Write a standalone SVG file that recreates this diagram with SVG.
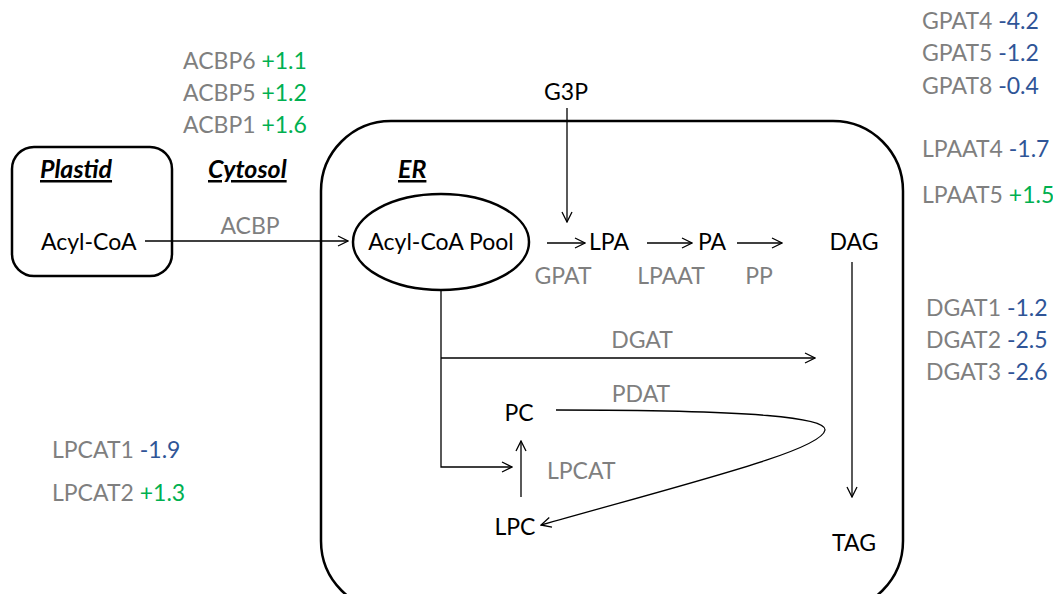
<svg xmlns="http://www.w3.org/2000/svg" width="1053" height="594" viewBox="0 0 1053 594">
<defs>
<marker id="arr" viewBox="0 0 12 12" refX="11" refY="6" markerWidth="12" markerHeight="12" markerUnits="userSpaceOnUse" orient="auto">
<polyline points="1,1 11,6 1,11" fill="none" stroke="#000" stroke-width="1.3"/>
</marker>
<style>
text{font-family:Lato,"Open Sans","Liberation Sans",sans-serif;font-size:23px}
.k{fill:#000}
.g{fill:#7f7f7f}
.b{fill:#2f5597}
.n{fill:#00b050}
.h{font-weight:bold;font-style:italic;text-decoration:underline;font-size:25px}
.box{fill:none;stroke:#000;stroke-width:2.5}
.c{fill:none;stroke:#000;stroke-width:1.3}
.m{text-anchor:middle}
</style>
</defs>
<rect width="1053" height="594" fill="#fff"/>

<g id="plastid">
<rect class="box" x="12" y="147" width="160" height="129" rx="22"/>
<text class="k h" x="40" y="178">Plastid</text>
<text class="k" x="41" y="250">Acyl-CoA</text>
</g>
<g id="cytosol"><text class="k h" x="208" y="178">Cytosol</text></g>
<g id="er">
<rect class="box" x="321" y="121" width="582" height="490" rx="70"/>
<text class="k h" x="398" y="178">ER</text>
</g>
<g id="pool">
<ellipse class="box" cx="441" cy="242" rx="88" ry="48"/>
<text class="k m" x="441" y="250">Acyl-CoA Pool</text>
</g>
<g id="g3p"><text class="k m" x="566" y="100">G3P</text></g>
<g id="lpa"><text class="k m" x="609" y="250">LPA</text></g>
<g id="pa"><text class="k m" x="712" y="250">PA</text></g>
<g id="dag"><text class="k m" x="854" y="250">DAG</text></g>
<g id="tag"><text class="k m" x="854" y="551">TAG</text></g>
<g id="pc"><text class="k m" x="519" y="421">PC</text></g>
<g id="lpc"><text class="k m" x="515" y="535">LPC</text></g>

<g id="connectors">
<line class="c" x1="145" y1="241" x2="348" y2="241" marker-end="url(#arr)"/>
<line class="c" x1="567" y1="108" x2="567" y2="222" marker-end="url(#arr)"/>
<line class="c" x1="547" y1="243" x2="585" y2="243" marker-end="url(#arr)"/>
<line class="c" x1="647" y1="243" x2="692" y2="243" marker-end="url(#arr)"/>
<line class="c" x1="737" y1="243" x2="782" y2="243" marker-end="url(#arr)"/>
<line class="c" x1="852" y1="262" x2="852" y2="497" marker-end="url(#arr)"/>
<polyline class="c" points="441,290 441,467 512,467" marker-end="url(#arr)"/>
<line class="c" x1="441" y1="358" x2="815" y2="358" marker-end="url(#arr)"/>
<line class="c" x1="521" y1="497" x2="521" y2="441" marker-end="url(#arr)"/>
<path class="c" d="M556,410 C760,410 826,418 825,430 C822,450 700,480 541,525" marker-end="url(#arr)"/>
</g>

<g id="labels">
<text class="g m" x="250" y="234">ACBP</text>
<text class="g m" x="563" y="284">GPAT</text>
<text class="g m" x="671" y="284">LPAAT</text>
<text class="g m" x="759" y="284">PP</text>
<text class="g m" x="642" y="348">DGAT</text>
<text class="g m" x="641" y="402">PDAT</text>
<text class="g" x="547" y="479">LPCAT</text>
</g>

<g id="expression">
<text x="183" y="69"><tspan class="g">ACBP6 </tspan><tspan class="n">+1.1</tspan></text>
<text x="183" y="101"><tspan class="g">ACBP5 </tspan><tspan class="n">+1.2</tspan></text>
<text x="183" y="133"><tspan class="g">ACBP1 </tspan><tspan class="n">+1.6</tspan></text>
<text x="922" y="29"><tspan class="g">GPAT4 </tspan><tspan class="b">-4.2</tspan></text>
<text x="922" y="61"><tspan class="g">GPAT5 </tspan><tspan class="b">-1.2</tspan></text>
<text x="922" y="94"><tspan class="g">GPAT8 </tspan><tspan class="b">-0.4</tspan></text>
<text x="922" y="157"><tspan class="g">LPAAT4 </tspan><tspan class="b">-1.7</tspan></text>
<text x="922" y="203"><tspan class="g">LPAAT5 </tspan><tspan class="n">+1.5</tspan></text>
<text x="926" y="316"><tspan class="g">DGAT1 </tspan><tspan class="b">-1.2</tspan></text>
<text x="926" y="348"><tspan class="g">DGAT2 </tspan><tspan class="b">-2.5</tspan></text>
<text x="926" y="380"><tspan class="g">DGAT3 </tspan><tspan class="b">-2.6</tspan></text>
<text x="52" y="458"><tspan class="g">LPCAT1 </tspan><tspan class="b">-1.9</tspan></text>
<text x="52" y="501"><tspan class="g">LPCAT2 </tspan><tspan class="n">+1.3</tspan></text>
</g>
</svg>
